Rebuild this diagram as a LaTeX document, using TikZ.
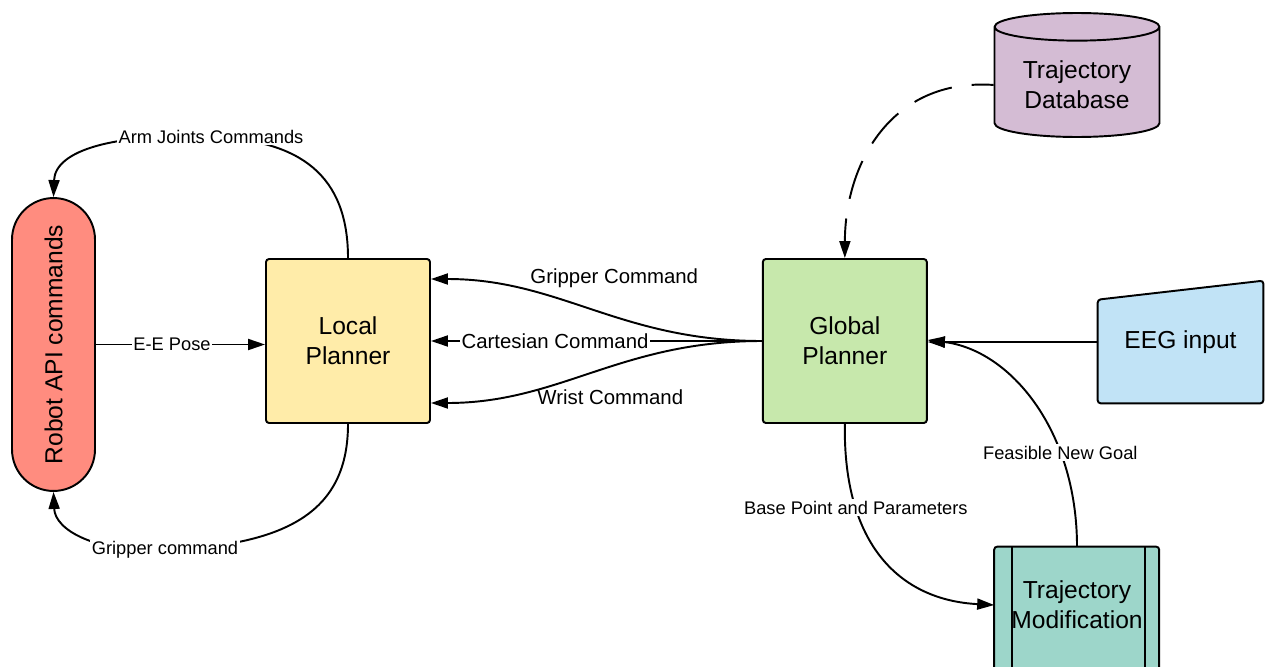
\documentclass[tikz,border=0pt]{standalone}
\usepackage{fontspec}
\setmainfont{Liberation Sans}
\usepackage{tikz}
\usetikzlibrary{shapes,arrows.meta,positioning,backgrounds}

\definecolor{robotred}{HTML}{FF8C7F}
\definecolor{localyellow}{HTML}{FFECA9}
\definecolor{globalgreen}{HTML}{C7E8AC}
\definecolor{eegblue}{HTML}{C1E3F6}
\definecolor{dbpurple}{HTML}{D4BCD4}
\definecolor{modteal}{HTML}{9DD6CA}

\begin{document}
\begin{tikzpicture}[
    x=0.02cm, y=-0.02cm,
    box/.style={rectangle, draw, line width=1.1pt, rounded corners=0.06cm, minimum width=3.28cm, minimum height=3.28cm, align=center, font=\fontsize{14}{17}\selectfont},
    plain/.style={minimum width=3.3cm, align=center, font=\fontsize{14}{17}\selectfont},
    lbl/.style={fill=white, inner sep=1pt, font=\fontsize{10.4}{12}\selectfont},
    cmd/.style={inner sep=1pt, font=\fontsize{11.6}{14}\selectfont},
    arrow/.style={-{Triangle[length=0.34cm,width=0.22cm]}, line width=1.1pt}
]
    \useasboundingbox (0,0) rectangle (1270,666);

    \node[box, fill=localyellow] (local) at (348,341) {Local\\Planner};
    \node[box, fill=globalgreen, right=6.62cm of local] (global) {Global\\Planner};
    \node[draw, line width=1.1pt, fill=robotred, rotate=90, minimum width=5.86cm, minimum height=1.66cm, rounded corners=0.83cm, font=\fontsize{14}{17}\selectfont] (robot) at (53.5,344.5) {Robot API commands};
    \node[cylinder, shape border rotate=90, aspect=0.23, draw, line width=1.1pt, fill=dbpurple, minimum width=3.3cm, minimum height=2.48cm, align=center, font=\fontsize{14}{17}\selectfont, anchor=shape center] (db) at (1077,75) {Trajectory\\Database};
    \node[plain, minimum height=2.44cm] (eeg) at (1180.5,342) {EEG input};
    \node[plain, minimum height=2.32cm] (trajmod) at (1077,605) {Trajectory\\Modification};

    % shapes behind the text
    \begin{scope}[on background layer]
        \draw[line width=1.1pt, fill=eegblue, rounded corners=0.06cm] (eeg.south west) -- ([yshift=-0.38cm]eeg.north west) -- (eeg.north east) -- (eeg.south east) -- cycle;
        \draw[line width=1.1pt, fill=modteal, rounded corners=0.06cm] (trajmod.north west) rectangle ++(165,160);
        \draw[line width=1.1pt] ([xshift=0.36cm]trajmod.north west) -- ++(0,160);
        \draw[line width=1.1pt] ([xshift=-0.3cm]trajmod.north east) -- ++(0,160);
    \end{scope}

    \draw[arrow] (local.north) .. controls (348,175) and (300,140) .. (211,137) node[lbl] {Arm Joints Commands} .. controls (115,133) and (55,150) .. (robot.east);
    \draw[arrow] (local.south) .. controls (348,510) and (290,545) .. (165,550) node[lbl] {Gripper command} .. controls (95,553) and (55,530) .. (robot.west);
    \draw[arrow] (robot.south) -- node[lbl, pos=0.45] {E-E Pose} (robot.south -| local.west);

    \draw[arrow] (global.west) .. controls (620,341) and (560,279) .. node[cmd, pos=0.4, yshift=0.82cm, xshift=-0.14cm] {Gripper Command} (local.east |- 0,279);
    \draw[arrow] (global.west) -- node[cmd, fill=white, pos=0.625] {Cartesian Command} (local.east);
    \draw[arrow] (global.west) .. controls (620,341) and (560,403) .. node[cmd, pos=0.4, yshift=-0.68cm, xshift=-0.22cm] {Wrist Command} (local.east |- 0,403);

    \draw[arrow, dash pattern=on 0.8cm off 0.4cm, dash phase=0.36cm] (db.west) .. controls (890,78) and (845,165) .. (global.north);
    \draw[arrow] (eeg.west) -- (eeg.west -| global.east);
    \draw[arrow] (global.south) .. controls (843,545) and (900,600) .. node[lbl, pos=0.27] {Base Point and Parameters} (trajmod.west);
    \draw[arrow] (trajmod.north) .. controls (1077,430) and (1010,350) .. node[lbl, pos=0.3] {Feasible New Goal} ([yshift=0.02cm]global.east);
\end{tikzpicture}
\end{document}
